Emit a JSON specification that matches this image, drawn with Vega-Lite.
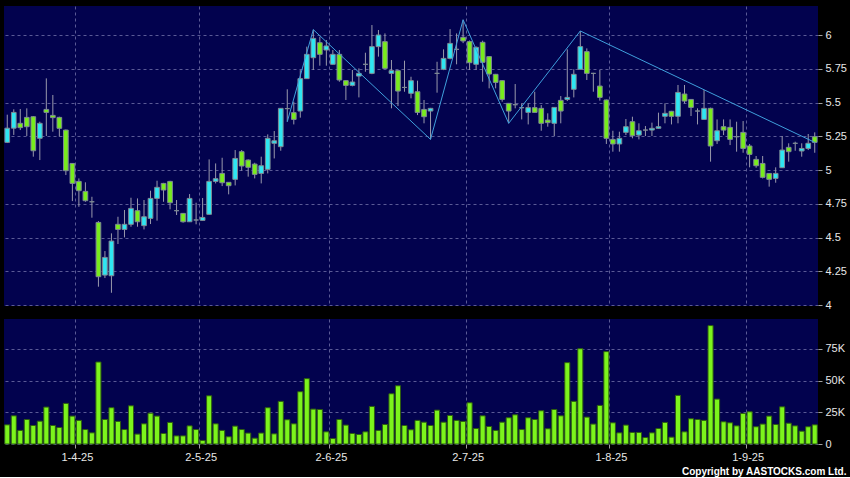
{
  "$schema": "https://vega.github.io/schema/vega-lite/v6.json",
  "background": "#000000",
  "padding": {"left": 4, "top": 6, "right": 3, "bottom": 0},
  "config": {
    "view": {"fill": "#02024e", "stroke": null},
    "font": "Liberation Sans",
    "axis": {"labelColor": "#e8e8e8", "labelFont": "Liberation Sans", "labelFontSize": 11, "tickColor": "#a0a0a0", "domain": false, "gridColor": "#5a5a96", "gridDash": [3, 3], "gridWidth": 1}
  },
  "datasets": {
    "k": [
      {"d":"2025-03-17","o":5.205,"h":5.41,"l":5.2,"c":5.31,"v":15100},
      {"d":"2025-03-18","o":5.31,"h":5.45,"l":5.26,"c":5.427,"v":22200},
      {"d":"2025-03-19","o":5.346,"h":5.452,"l":5.296,"c":5.314,"v":10700},
      {"d":"2025-03-20","o":5.39,"h":5.457,"l":5.252,"c":5.321,"v":19300},
      {"d":"2025-03-21","o":5.395,"h":5.4,"l":5.099,"c":5.143,"v":14600},
      {"d":"2025-03-24","o":5.235,"h":5.358,"l":5.074,"c":5.346,"v":18000},
      {"d":"2025-03-25","o":5.449,"h":5.679,"l":5.252,"c":5.427,"v":29100},
      {"d":"2025-03-26","o":5.405,"h":5.556,"l":5.284,"c":5.388,"v":14600},
      {"d":"2025-03-27","o":5.39,"h":5.395,"l":5.247,"c":5.309,"v":13000},
      {"d":"2025-03-28","o":5.296,"h":5.3,"l":4.963,"c":4.995,"v":32000},
      {"d":"2025-03-31","o":5.049,"h":5.05,"l":4.77,"c":4.901,"v":22000},
      {"d":"2025-04-01","o":4.916,"h":4.938,"l":4.728,"c":4.847,"v":18600},
      {"d":"2025-04-02","o":4.842,"h":4.909,"l":4.765,"c":4.773,"v":11400},
      {"d":"2025-04-03","o":4.765,"h":4.802,"l":4.647,"c":4.765,"v":8800},
      {"d":"2025-04-07","o":4.612,"h":4.622,"l":4.136,"c":4.21,"v":64600},
      {"d":"2025-04-08","o":4.222,"h":4.4,"l":4.2,"c":4.353,"v":19300},
      {"d":"2025-04-09","o":4.217,"h":4.531,"l":4.091,"c":4.474,"v":28600},
      {"d":"2025-04-10","o":4.598,"h":4.654,"l":4.452,"c":4.56,"v":17800},
      {"d":"2025-04-11","o":4.56,"h":4.704,"l":4.501,"c":4.598,"v":11400},
      {"d":"2025-04-14","o":4.598,"h":4.795,"l":4.58,"c":4.716,"v":30100},
      {"d":"2025-04-15","o":4.699,"h":4.79,"l":4.58,"c":4.617,"v":7800},
      {"d":"2025-04-16","o":4.588,"h":4.778,"l":4.56,"c":4.654,"v":15900},
      {"d":"2025-04-17","o":4.642,"h":4.847,"l":4.6,"c":4.79,"v":24300},
      {"d":"2025-04-22","o":4.79,"h":4.921,"l":4.625,"c":4.872,"v":22000},
      {"d":"2025-04-23","o":4.901,"h":4.905,"l":4.765,"c":4.852,"v":8300},
      {"d":"2025-04-24","o":4.916,"h":4.92,"l":4.709,"c":4.758,"v":17000},
      {"d":"2025-04-25","o":4.699,"h":4.778,"l":4.667,"c":4.699,"v":6400},
      {"d":"2025-04-28","o":4.679,"h":4.682,"l":4.61,"c":4.617,"v":6400},
      {"d":"2025-04-29","o":4.617,"h":4.822,"l":4.615,"c":4.79,"v":14300},
      {"d":"2025-04-30","o":4.63,"h":4.758,"l":4.598,"c":4.63,"v":11400},
      {"d":"2025-05-02","o":4.627,"h":4.793,"l":4.625,"c":4.649,"v":2800},
      {"d":"2025-05-06","o":4.672,"h":5.079,"l":4.67,"c":4.916,"v":38000},
      {"d":"2025-05-07","o":4.916,"h":5.049,"l":4.901,"c":4.936,"v":15900},
      {"d":"2025-05-08","o":4.975,"h":5.091,"l":4.881,"c":4.906,"v":10700},
      {"d":"2025-05-09","o":4.909,"h":4.91,"l":4.82,"c":4.884,"v":5700},
      {"d":"2025-05-12","o":4.931,"h":5.148,"l":4.886,"c":5.086,"v":14100},
      {"d":"2025-05-13","o":5.136,"h":5.148,"l":4.995,"c":5.03,"v":11400},
      {"d":"2025-05-14","o":5.074,"h":5.079,"l":4.951,"c":5.02,"v":8600},
      {"d":"2025-05-15","o":5.044,"h":5.054,"l":4.938,"c":4.968,"v":4600},
      {"d":"2025-05-16","o":4.975,"h":5.099,"l":4.901,"c":5.032,"v":8600},
      {"d":"2025-05-19","o":5.005,"h":5.264,"l":4.975,"c":5.235,"v":28600},
      {"d":"2025-05-20","o":5.198,"h":5.289,"l":5.086,"c":5.217,"v":8000},
      {"d":"2025-05-21","o":5.173,"h":5.457,"l":5.143,"c":5.457,"v":33600},
      {"d":"2025-05-22","o":5.455,"h":5.598,"l":5.358,"c":5.455,"v":19100},
      {"d":"2025-05-23","o":5.425,"h":5.506,"l":5.338,"c":5.375,"v":15900},
      {"d":"2025-05-26","o":5.437,"h":5.74,"l":5.388,"c":5.677,"v":41200},
      {"d":"2025-05-27","o":5.677,"h":5.914,"l":5.675,"c":5.857,"v":51500},
      {"d":"2025-05-28","o":5.832,"h":6.04,"l":5.741,"c":5.975,"v":27500},
      {"d":"2025-05-29","o":5.943,"h":5.988,"l":5.773,"c":5.857,"v":27200},
      {"d":"2025-05-30","o":5.889,"h":5.963,"l":5.773,"c":5.919,"v":9600},
      {"d":"2025-06-02","o":5.783,"h":5.889,"l":5.78,"c":5.857,"v":4300},
      {"d":"2025-06-03","o":5.857,"h":5.889,"l":5.654,"c":5.667,"v":19300},
      {"d":"2025-06-04","o":5.662,"h":5.665,"l":5.519,"c":5.627,"v":14900},
      {"d":"2025-06-05","o":5.627,"h":5.741,"l":5.62,"c":5.652,"v":8300},
      {"d":"2025-06-06","o":5.696,"h":5.753,"l":5.538,"c":5.716,"v":7500},
      {"d":"2025-06-09","o":5.783,"h":5.869,"l":5.728,"c":5.783,"v":9600},
      {"d":"2025-06-10","o":5.716,"h":6.074,"l":5.71,"c":5.914,"v":29600},
      {"d":"2025-06-11","o":5.914,"h":6.037,"l":5.84,"c":6.0,"v":10700},
      {"d":"2025-06-12","o":5.951,"h":6.012,"l":5.75,"c":5.753,"v":15400},
      {"d":"2025-06-13","o":5.716,"h":5.815,"l":5.457,"c":5.736,"v":39600},
      {"d":"2025-06-16","o":5.736,"h":5.74,"l":5.474,"c":5.585,"v":45900},
      {"d":"2025-06-17","o":5.612,"h":5.81,"l":5.58,"c":5.612,"v":14600},
      {"d":"2025-06-18","o":5.568,"h":5.691,"l":5.531,"c":5.662,"v":11200},
      {"d":"2025-06-19","o":5.58,"h":5.662,"l":5.407,"c":5.427,"v":18600},
      {"d":"2025-06-20","o":5.449,"h":5.519,"l":5.346,"c":5.395,"v":17200},
      {"d":"2025-06-23","o":5.437,"h":5.46,"l":5.227,"c":5.457,"v":14600},
      {"d":"2025-06-24","o":5.716,"h":5.802,"l":5.573,"c":5.716,"v":26700},
      {"d":"2025-06-25","o":5.746,"h":5.894,"l":5.74,"c":5.827,"v":17200},
      {"d":"2025-06-26","o":5.827,"h":6.044,"l":5.82,"c":5.938,"v":22500},
      {"d":"2025-06-27","o":5.894,"h":6.012,"l":5.783,"c":5.894,"v":18600},
      {"d":"2025-06-30","o":5.983,"h":6.113,"l":5.94,"c":5.956,"v":17800},
      {"d":"2025-07-02","o":5.951,"h":5.96,"l":5.741,"c":5.795,"v":32500},
      {"d":"2025-07-03","o":5.783,"h":5.915,"l":5.741,"c":5.909,"v":12200},
      {"d":"2025-07-04","o":5.946,"h":5.958,"l":5.654,"c":5.798,"v":22200},
      {"d":"2025-07-07","o":5.84,"h":5.843,"l":5.605,"c":5.711,"v":13800},
      {"d":"2025-07-08","o":5.709,"h":5.712,"l":5.605,"c":5.649,"v":10700},
      {"d":"2025-07-09","o":5.662,"h":5.665,"l":5.506,"c":5.523,"v":17200},
      {"d":"2025-07-10","o":5.494,"h":5.497,"l":5.346,"c":5.437,"v":20700},
      {"d":"2025-07-11","o":5.484,"h":5.637,"l":5.457,"c":5.484,"v":23000},
      {"d":"2025-07-14","o":5.462,"h":5.494,"l":5.375,"c":5.462,"v":11400},
      {"d":"2025-07-15","o":5.427,"h":5.494,"l":5.338,"c":5.462,"v":20700},
      {"d":"2025-07-16","o":5.462,"h":5.58,"l":5.427,"c":5.427,"v":19300},
      {"d":"2025-07-17","o":5.457,"h":5.481,"l":5.291,"c":5.346,"v":26200},
      {"d":"2025-07-18","o":5.37,"h":5.42,"l":5.321,"c":5.351,"v":12000},
      {"d":"2025-07-21","o":5.346,"h":5.464,"l":5.252,"c":5.464,"v":27200},
      {"d":"2025-07-22","o":5.516,"h":5.548,"l":5.346,"c":5.437,"v":22200},
      {"d":"2025-07-23","o":5.523,"h":5.894,"l":5.511,"c":5.538,"v":64100},
      {"d":"2025-07-24","o":5.598,"h":5.746,"l":5.538,"c":5.709,"v":33600},
      {"d":"2025-07-25","o":5.746,"h":6.03,"l":5.745,"c":5.914,"v":75100},
      {"d":"2025-07-28","o":5.877,"h":5.901,"l":5.667,"c":5.716,"v":21200},
      {"d":"2025-07-29","o":5.716,"h":5.72,"l":5.58,"c":5.716,"v":15700},
      {"d":"2025-07-30","o":5.622,"h":5.741,"l":5.514,"c":5.538,"v":30400},
      {"d":"2025-07-31","o":5.519,"h":5.522,"l":5.193,"c":5.235,"v":72800},
      {"d":"2025-08-01","o":5.227,"h":5.291,"l":5.136,"c":5.193,"v":16700},
      {"d":"2025-08-04","o":5.193,"h":5.284,"l":5.136,"c":5.235,"v":8800},
      {"d":"2025-08-05","o":5.279,"h":5.378,"l":5.259,"c":5.321,"v":14900},
      {"d":"2025-08-06","o":5.358,"h":5.395,"l":5.235,"c":5.254,"v":9100},
      {"d":"2025-08-07","o":5.259,"h":5.346,"l":5.227,"c":5.291,"v":9100},
      {"d":"2025-08-08","o":5.296,"h":5.326,"l":5.252,"c":5.296,"v":5100},
      {"d":"2025-08-11","o":5.296,"h":5.351,"l":5.252,"c":5.309,"v":8800},
      {"d":"2025-08-12","o":5.309,"h":5.425,"l":5.305,"c":5.321,"v":12200},
      {"d":"2025-08-13","o":5.398,"h":5.494,"l":5.346,"c":5.42,"v":17000},
      {"d":"2025-08-14","o":5.435,"h":5.438,"l":5.338,"c":5.398,"v":5400},
      {"d":"2025-08-15","o":5.398,"h":5.63,"l":5.346,"c":5.575,"v":38300},
      {"d":"2025-08-18","o":5.563,"h":5.63,"l":5.494,"c":5.511,"v":9600},
      {"d":"2025-08-19","o":5.523,"h":5.526,"l":5.4,"c":5.464,"v":19900},
      {"d":"2025-08-20","o":5.437,"h":5.457,"l":5.338,"c":5.437,"v":19300},
      {"d":"2025-08-21","o":5.375,"h":5.593,"l":5.372,"c":5.457,"v":18600},
      {"d":"2025-08-22","o":5.457,"h":5.462,"l":5.062,"c":5.178,"v":93300},
      {"d":"2025-08-25","o":5.217,"h":5.375,"l":5.193,"c":5.291,"v":35400},
      {"d":"2025-08-26","o":5.321,"h":5.375,"l":5.259,"c":5.296,"v":17500},
      {"d":"2025-08-27","o":5.316,"h":5.375,"l":5.185,"c":5.227,"v":16700},
      {"d":"2025-08-28","o":5.247,"h":5.358,"l":5.136,"c":5.247,"v":14300},
      {"d":"2025-08-29","o":5.279,"h":5.363,"l":5.128,"c":5.16,"v":24100},
      {"d":"2025-09-01","o":5.178,"h":5.193,"l":5.02,"c":5.116,"v":25400},
      {"d":"2025-09-02","o":5.079,"h":5.104,"l":5.017,"c":5.032,"v":13600},
      {"d":"2025-09-03","o":5.049,"h":5.104,"l":4.938,"c":4.946,"v":15700},
      {"d":"2025-09-04","o":4.975,"h":4.978,"l":4.877,"c":4.931,"v":22000},
      {"d":"2025-09-05","o":4.938,"h":5.02,"l":4.906,"c":4.975,"v":15400},
      {"d":"2025-09-08","o":5.017,"h":5.252,"l":5.015,"c":5.148,"v":29300},
      {"d":"2025-09-09","o":5.168,"h":5.198,"l":5.062,"c":5.136,"v":16400},
      {"d":"2025-09-10","o":5.198,"h":5.21,"l":5.143,"c":5.198,"v":14300},
      {"d":"2025-09-11","o":5.141,"h":5.198,"l":5.099,"c":5.16,"v":10100},
      {"d":"2025-09-12","o":5.16,"h":5.267,"l":5.148,"c":5.198,"v":13600},
      {"d":"2025-09-15","o":5.247,"h":5.279,"l":5.128,"c":5.205,"v":15100}
    ],
    "zz": [
      {"d":"2025-05-22","p":5.358},
      {"d":"2025-05-28","p":6.04},
      {"d":"2025-06-23","p":5.227},
      {"d":"2025-06-30","p":6.113},
      {"d":"2025-07-10","p":5.346},
      {"d":"2025-07-25","p":6.03},
      {"d":"2025-09-15","p":5.205}
    ]
  },
  "spacing": 8,
  "title": {"text": "Copyright by AASTOCKS.com Ltd.", "orient": "bottom", "anchor": "end", "frame": "bounds", "color": "#ffffff", "fontSize": 10, "fontWeight": "bold", "font": "Liberation Sans", "offset": 5},
  "vconcat": [
    {
      "width": 814,
      "height": 300,
      "layer": [
        {
          "data": {"name": "k"},
          "mark": {"type": "rule", "color": "#9a9aac", "strokeWidth": 1},
          "encoding": {
            "x": {"field": "d", "type": "ordinal", "scale": {"paddingInner": 0, "paddingOuter": 0},
                  "axis": {"values": ["2025-04-01","2025-05-02","2025-06-02","2025-07-02","2025-08-01","2025-09-01"], "bandPosition": 0, "labels": false, "ticks": false, "grid": true, "title": null}},
            "y": {"field": "l", "type": "quantitative", "scale": {"domain": [3.993, 6.215], "nice": false, "zero": false},
                  "axis": {"orient": "right", "values": [4, 4.25, 4.5, 4.75, 5, 5.25, 5.5, 5.75, 6], "format": ".2~f", "tickSize": 4, "labelPadding": 3, "grid": true, "title": null}},
            "y2": {"field": "h"}
          }
        },
        {
          "data": {"name": "k"},
          "mark": {"type": "bar", "width": {"band": 0.72}, "stroke": "#7e8a94", "strokeWidth": 1},
          "encoding": {
            "x": {"field": "d", "type": "ordinal", "scale": {"paddingInner": 0, "paddingOuter": 0},
                  "axis": {"values": ["2025-04-01","2025-05-02","2025-06-02","2025-07-02","2025-08-01","2025-09-01"], "bandPosition": 0, "labels": false, "ticks": false, "grid": true, "title": null}},
            "y": {"field": "o", "type": "quantitative", "scale": {"domain": [3.993, 6.215], "nice": false, "zero": false},
                  "axis": {"orient": "right", "values": [4, 4.25, 4.5, 4.75, 5, 5.25, 5.5, 5.75, 6], "format": ".2~f", "tickSize": 4, "labelPadding": 3, "grid": true, "title": null}},
            "y2": {"field": "c"},
            "color": {"condition": [{"test": "datum.c > datum.o", "value": "#2ee6f2"}, {"test": "datum.c < datum.o", "value": "#78ec1c"}], "value": "#a0a0b0"}
          }
        },
        {
          "data": {"name": "zz"},
          "mark": {"type": "line", "color": "#3f9fdc", "strokeWidth": 1},
          "encoding": {
            "x": {"field": "d", "type": "ordinal", "scale": {"paddingInner": 0, "paddingOuter": 0},
                  "axis": {"values": ["2025-04-01","2025-05-02","2025-06-02","2025-07-02","2025-08-01","2025-09-01"], "bandPosition": 0, "labels": false, "ticks": false, "grid": true, "title": null}},
            "y": {"field": "p", "type": "quantitative", "scale": {"domain": [3.993, 6.215], "nice": false, "zero": false},
                  "axis": {"orient": "right", "values": [4, 4.25, 4.5, 4.75, 5, 5.25, 5.5, 5.75, 6], "format": ".2~f", "tickSize": 4, "labelPadding": 3, "grid": true, "title": null}}
          }
        }
      ]
    },
    {
      "width": 814,
      "height": 125,
      "data": {"name": "k"},
      "mark": {"type": "bar", "width": {"band": 0.78}, "fill": "#7cf41c", "stroke": "#2e5e10", "strokeWidth": 1},
      "encoding": {
        "x": {"field": "d", "type": "ordinal", "scale": {"paddingInner": 0, "paddingOuter": 0},
              "axis": {"values": ["2025-04-01","2025-05-02","2025-06-02","2025-07-02","2025-08-01","2025-09-01"], "bandPosition": 0, "labelAngle": 0, "labelExpr": "toNumber(substring(datum.value, 8, 10)) + '-' + toNumber(substring(datum.value, 5, 7)) + '-' + substring(datum.value, 2, 4)", "tickSize": 4, "labelPadding": 3, "labelOffset": -1.5, "grid": true, "title": null}},
        "y": {"field": "v", "type": "quantitative", "scale": {"domain": [0, 98500], "nice": false},
              "axis": {"orient": "right", "values": [0, 25000, 50000, 75000], "labelExpr": "datum.value == 0 ? '0' : (datum.value / 1000) + 'K'", "tickSize": 4, "labelPadding": 3, "grid": true, "title": null}}
      }
    }
  ]
}
